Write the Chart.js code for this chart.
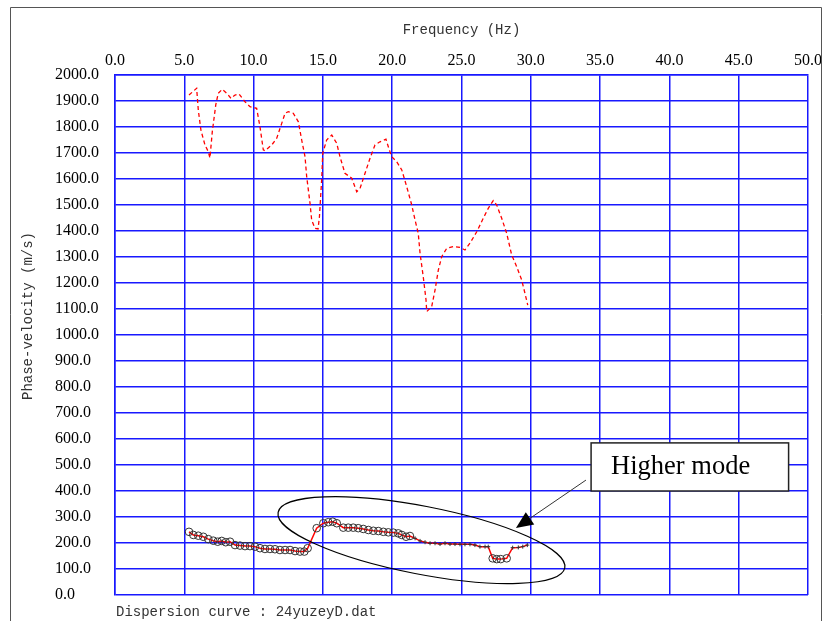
<!DOCTYPE html>
<html>

<head>
  <title>Dispersion curve</title>
  <script src="https://cdn.jsdelivr.net/npm/chart.js"></script>
  <style>
    body {
      margin: 0;
      background: #fff;
    }
  </style>
</head>

<body>
  <canvas id="disp-chart" width="824" height="621"></canvas>

  <script>
    // dashed red curve (Hz / m/s)
    const dashFreq = [5.34, 5.89, 6.01, 6.20, 6.49, 6.73, 6.85, 7.02, 7.27, 7.45, 7.74, 8.06, 8.37, 8.66, 8.95, 9.38, 9.74, 10.22,
      10.46, 10.70, 10.82, 11.31, 11.67, 12.03, 12.27, 12.50, 12.86, 13.23, 13.47, 13.71, 13.83, 14.07, 14.19, 14.43, 14.65, 14.75,
      14.91, 14.99, 15.27, 15.64, 16.00, 16.23, 16.59, 17.08, 17.44, 17.68, 18.04, 18.40, 18.76, 19.12, 19.55, 19.72, 19.96, 20.32,
      20.69, 21.05, 21.41, 21.65, 21.88, 22.01, 22.24, 22.44, 22.49, 22.85, 23.09, 23.33, 23.57, 23.93, 24.41, 24.89, 25.25, 25.61,
      26.10, 26.57, 26.93, 27.29, 27.54, 27.90, 28.26, 28.62, 28.98, 29.34, 29.58, 29.78];
    const dashVel = [1923, 1949, 1865, 1788, 1731, 1705, 1681, 1782, 1885, 1930, 1945, 1930, 1910, 1923, 1927, 1897, 1878, 1872,
      1801, 1712, 1709, 1731, 1757, 1814, 1853, 1859, 1853, 1820, 1750, 1686, 1609, 1507, 1442, 1410, 1408, 1455,
      1596, 1699, 1750, 1769, 1737, 1686, 1622, 1603, 1551, 1564, 1622, 1680, 1731, 1743, 1753, 1724, 1686, 1667,
      1635, 1570, 1500, 1442, 1391, 1314, 1224, 1135, 1090, 1109, 1173, 1250, 1301, 1333, 1340, 1337, 1327, 1353,
      1397, 1449, 1487, 1517, 1500, 1449, 1391, 1308, 1263, 1212, 1160, 1115];

    // picked curve with markers
    const pickFreq = [5.34, 5.65, 6.01, 6.37, 6.73, 7.09, 7.41, 7.70, 7.99, 8.30, 8.66, 9.02, 9.38, 9.74, 10.10, 10.46, 10.82,
      11.18, 11.54, 11.90, 12.27, 12.63, 12.99, 13.35, 13.66, 13.90, 14.55, 15.03, 15.39, 15.71, 16.00, 16.47, 16.83, 17.19,
      17.55, 17.91, 18.28, 18.64, 19.00, 19.36, 19.72, 20.08, 20.44, 20.69, 21.00, 21.28, 21.65, 22.01, 22.37, 22.73, 23.09,
      23.45, 23.81, 24.17, 24.53, 24.89, 25.25, 25.61, 25.97, 26.33, 26.70, 26.93, 27.25, 27.54, 27.83, 28.26, 28.69, 29.10,
      29.42, 29.75];
    const pickVel = [243, 231, 228, 224, 215, 209, 205, 208, 203, 205, 192, 190, 188, 188, 186, 180, 177,
      177, 176, 173, 173, 173, 169, 167, 167, 180, 257, 276, 280, 282, 276, 259, 259, 259,
      257, 254, 250, 247, 246, 243, 241, 240, 237, 231, 224, 227, 218, 208, 203, 199, 199,
      196, 199, 196, 196, 195, 195, 195, 192, 186, 186, 186, 141, 138, 138, 141, 182, 183,
      186, 192];

    const xTicks = [0, 5, 10, 15, 20, 25, 30, 35, 40, 45, 50];
    const yTickStep = 100;

    // annotation (data units)
    const ringCenter = { x: 22.11, y: 211 };
    const noteBox = { x0: 34.35, y0: 585, x1: 48.6, y1: 400 };
    const arrowFrom = { x: 33.98, y: 442 };
    const arrowTo = { x: 28.93, y: 258 };

    const gridBlue = '#1818ff';

    const decor = {
      id: 'decor',
      afterDraw(chart) {
        const ctx = chart.ctx;
        const xs = chart.scales.x;
        const ys = chart.scales.y;
        ctx.save();

        // page frame
        ctx.strokeStyle = '#555';
        ctx.lineWidth = 1;
        ctx.beginPath();
        ctx.moveTo(10.5, 621);
        ctx.lineTo(10.5, 7.5);
        ctx.lineTo(821.5, 7.5);
        ctx.lineTo(821.5, 621);
        ctx.stroke();

        // y title
        ctx.fillStyle = '#333';
        ctx.font = '14px "Liberation Mono"';
        ctx.textAlign = 'center';
        ctx.textBaseline = 'middle';
        ctx.translate(28, 316);
        ctx.rotate(-Math.PI / 2);
        ctx.fillText('Phase-velocity (m/s)', 0, 0);
        ctx.setTransform(1, 0, 0, 1, 0, 0);

        // footer
        ctx.textAlign = 'left';
        ctx.fillText('Dispersion curve : 24yuzeyD.dat', 116, 612);

        // ellipse around higher mode
        ctx.strokeStyle = '#000';
        ctx.lineWidth = 1.2;
        ctx.beginPath();
        ctx.ellipse(xs.getPixelForValue(ringCenter.x), ys.getPixelForValue(ringCenter.y), 146, 34, 11 * Math.PI / 180, 0, Math.PI * 2);
        ctx.stroke();

        // callout box
        const bx0 = xs.getPixelForValue(noteBox.x0), by0 = ys.getPixelForValue(noteBox.y0);
        const bx1 = xs.getPixelForValue(noteBox.x1), by1 = ys.getPixelForValue(noteBox.y1);
        ctx.fillStyle = '#fff';
        ctx.fillRect(bx0, by0, bx1 - bx0, by1 - by0);
        ctx.strokeStyle = '#222';
        ctx.lineWidth = 1.5;
        ctx.strokeRect(bx0, by0, bx1 - bx0, by1 - by0);
        ctx.fillStyle = '#000';
        ctx.font = '26.5px "Liberation Serif"';
        ctx.textBaseline = 'middle';
        ctx.fillText('Higher mode', bx0 + 20, (by0 + by1) / 2);

        // arrow
        const ax0 = xs.getPixelForValue(arrowFrom.x), ay0 = ys.getPixelForValue(arrowFrom.y);
        const ax1 = xs.getPixelForValue(arrowTo.x), ay1 = ys.getPixelForValue(arrowTo.y);
        const ang = Math.atan2(ay1 - ay0, ax1 - ax0);
        const head = 17, half = 7.5;
        const hx = ax1 - head * Math.cos(ang), hy = ay1 - head * Math.sin(ang);
        ctx.strokeStyle = '#333';
        ctx.lineWidth = 1;
        ctx.beginPath();
        ctx.moveTo(ax0, ay0);
        ctx.lineTo(hx, hy);
        ctx.stroke();
        ctx.fillStyle = '#000';
        ctx.beginPath();
        ctx.moveTo(ax1, ay1);
        ctx.lineTo(hx + half * Math.sin(ang), hy - half * Math.cos(ang));
        ctx.lineTo(hx - half * Math.sin(ang), hy + half * Math.cos(ang));
        ctx.closePath();
        ctx.fill();

        ctx.restore();
      }
    };

    const ctx = document.getElementById('disp-chart').getContext('2d');
    const chart = new Chart(ctx, {
      type: 'line',
      data: {
        datasets: [{
          label: 'dashed',
          data: dashFreq.map((f, i) => ({ x: f, y: dashVel[i] })),
          borderColor: '#ff0000',
          borderWidth: 1.3,
          borderDash: [4, 3],
          pointRadius: 0,
          fill: false,
        }, {
          label: 'picked',
          data: pickFreq.map((f, i) => ({ x: f, y: pickVel[i] })),
          borderColor: '#ff0000',
          borderWidth: 1.5,
          fill: false,
          pointStyle: c => (c.raw.x < 21.5 || c.raw.y < 160) ? 'circle' : 'cross',
          pointRadius: c => (c.raw.x < 21.5 || c.raw.y < 160) ? 3.8 : 2,
          pointBorderColor: '#333',
          pointBorderWidth: 1,
          pointBackgroundColor: 'rgba(255,255,255,0)',
        }]
      },
      options: {
        responsive: false,
        animation: false,
        devicePixelRatio: 1,
        layout: {
          padding: { left: 55, right: 16, top: 0, bottom: 26 }
        },
        plugins: {
          legend: { display: false },
          tooltip: { enabled: false }
        },
        scales: {
          x: {
            type: 'linear',
            position: 'top',
            min: 0,
            max: 50,
            afterBuildTicks: s => { s.ticks = xTicks.map(v => ({ value: v })); },
            afterFit: s => {
              s.height = 75;
              s.paddingLeft = 0;
              s.paddingRight = 0;
            },
            ticks: {
              padding: 5,
              color: '#000',
              font: { family: 'Liberation Serif', size: 16 },
              callback: v => v.toFixed(1),
              maxRotation: 0,
              autoSkip: false
            },
            grid: { color: gridBlue, lineWidth: 1.5, drawTicks: false },
            border: { color: gridBlue, width: 1.5 },
            title: {
              display: true,
              text: 'Frequency (Hz)',
              color: '#333',
              font: { family: 'Liberation Mono', size: 14 },
              padding: { top: 22, bottom: 0 }
            }
          },
          y: {
            min: 0,
            max: 2000,
            afterFit: s => { s.width = 60; },
            ticks: {
              stepSize: yTickStep,
              crossAlign: 'far',
              color: '#000',
              font: { family: 'Liberation Serif', size: 16 },
              callback: v => v.toFixed(1),
              autoSkip: false
            },
            grid: { color: gridBlue, lineWidth: 1.5, drawTicks: false },
            border: { color: gridBlue, width: 1.5 }
          }
        }
      },
      plugins: [decor]
    });
  </script>
</body>

</html>
